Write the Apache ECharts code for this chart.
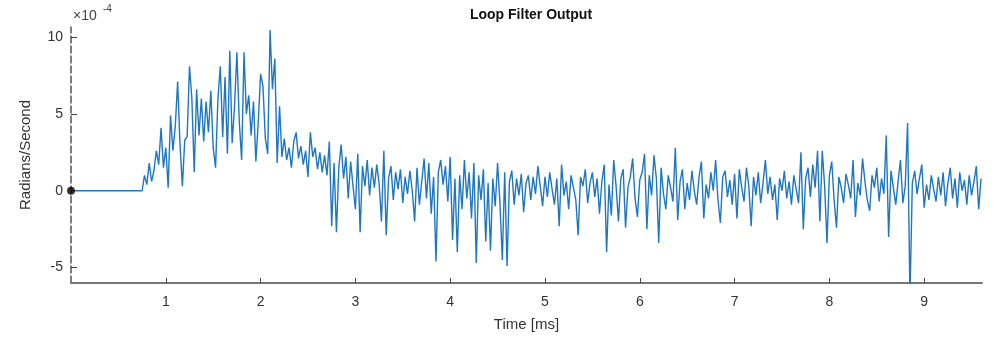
<!DOCTYPE html>
<html>
<head>
<meta charset="utf-8">
<title>Loop Filter Output</title>
<script src="https://cdn.jsdelivr.net/npm/echarts@6/dist/echarts.min.js"></script>
<style>
html, body { margin: 0; padding: 0; background: #fff; }
#chart { width: 994px; height: 340px; }
</style>
</head>
<body>
<div id="chart"></div>
<script>
// samples start at 0.75 ms, one every 0.025 ms, values in units of 1e-4 rad/s
var startTime = 0.75;
var stepTime = 0.025;

// 0.75 - 2.225 ms
var riseVals = [
  0, 1.0, 0.4, 1.8, 0.6, 1.3, 2.6, 1.7, 4.1, 1.5, 2.8, 0.2, 4.9, 2.6, 4.2, 7.1, 3.0, 0.3, 3.3, 3.5,
  8.1, 6.0, 1.2, 6.6, 3.6, 6.0, 3.2, 5.8, 3.8, 6.5, 2.8, 1.5, 6.0, 8.1, 3.5, 7.4, 2.4, 9.1, 3.1, 5.5,
  9.0, 4.5, 2.0, 9.0, 5.0, 6.2, 3.6, 5.8, 1.9, 4.4, 7.6, 6.8, 3.4, 2.4, 10.45, 6.6, 8.6, 1.8, 5.5, 2.2
];
// 2.25 - 4.725 ms
var decayVals = [
  3.4, 2.0, 2.8, 1.5, 3.2, 3.8, 2.1, 2.9, 1.7, 2.6, 0.9, 3.8, 2.2, 2.8, 1.4, 2.5, 1.2, 2.3, 1.0, 3.2,
  -2.3, 1.8, -2.7, 1.5, 3.0, 0.8, 2.2, -0.5, 1.9, 0.3, -1.2, 2.4, -2.7, 1.6, 0.3, 2.0, -0.3, 1.5, 0.2, 1.7,
  0.5, -2.0, 2.6, -2.9, 0.8, 1.6, -0.6, 1.2, 0.1, 1.4, -0.8, 0.9, -0.2, 1.3, 0.0, -2.0, 1.5, -0.9, 0.6, 2.1,
  -0.5, 1.8, -1.5, 0.9, -4.6, 1.2, 2.0, 0.4, 1.6, -0.7, 2.2, -3.2, 0.8, -4.0, 1.0, -1.2, 2.0, -0.5, 1.2, -1.8,
  1.8, -4.7, 1.0, -0.6, 1.4, -3.3, 0.5, -3.9, 0.8, -1.0, 1.8, -0.8, -4.5, 1.2, -4.9, 0.6, 1.3, -0.9, 0.8, -0.3
];
// 4.75 - 9.6 ms
var steadyVals = [
  1.1, -1.4, 0.5, 1.0, -0.6, 0.9, -0.2, 1.6, 0.3, -1.0, 0.9, -0.4, 1.2, 0.1, -0.9, 0.8, -2.3, 1.7, -0.3, 0.6,
  -1.2, 1.0, 0.2, -0.6, -2.9, 0.9, 0.3, 1.4, -0.8, 0.5, 1.2, -0.4, 0.8, -1.5, 0.6, 1.7, -4.0, 0.4, -1.6, 2.0,
  0.3, -2.0, 0.8, 1.4, -2.4, 0.2, 0.9, 2.1, -0.5, -1.7, 0.7, 1.2, 2.4, -2.5, 1.0, -0.3, 2.3, 0.8, -3.4, 1.5,
  -0.2, -1.2, 1.0, 0.2, -0.7, 2.8, -1.9, 0.6, 1.4, -1.2, 0.5, -0.6, 1.3, 0.0, -0.9, 0.9, 1.9, -1.8, 0.4, -0.5,
  1.2, 0.0, 2.0, -0.6, -2.1, 0.9, 1.3, -0.4, 0.7, -0.9, 1.1, -1.8, 1.4, 0.2, -0.7, 1.5, 0.3, -2.3, 0.9, -0.3,
  1.2, -0.8, 0.5, 2.0, -0.2, 0.9, -0.6, 0.4, -1.9, 0.8, 0.0, 1.3, -0.5, 0.6, -0.9, 1.0, 0.1, -0.8, 2.5, -2.5,
  0.8, 1.5, -0.4, 1.7, 0.2, 2.6, -2.0, 2.6, 0.3, -3.4, 1.0, 1.9, -0.6, -2.4, 0.9, 0.2, -0.8, 1.1, 0.4, -0.5,
  2.0, -1.7, 0.5, -0.3, 2.1, 0.6, -0.6, -1.3, 1.0, 0.2, 1.5, -0.7, 0.8, -0.2, 3.6, -3.0, 1.3, 0.2, -0.9, 0.6,
  2.0, -0.8, 0.3, 4.4, -7.0, 0.5, 1.3, -0.2, 0.8, 1.7, -1.1, 0.4, -0.6, 1.0, 0.1, -0.7, 0.9, -0.3, 1.2, -1.0,
  0.5, 1.5, -0.5, 0.8, -1.1, 1.2, 0.0, 0.7, -0.9, 1.0, -0.3, 0.6, 1.6, -1.2, 0.8
];

var xTicks = [1, 2, 3, 4, 5, 6, 7, 8, 9];
var yTicks = [-5, 0, 5, 10];
var startPoint = [0, 0];

var allVals = riseVals.concat(decayVals, steadyVals);
var lineData = [startPoint];
for (var i = 0; i < allVals.length; i++) {
  lineData.push([+(startTime + i * stepTime).toFixed(3), allVals[i]]);
}

var font = "Liberation Sans, Arial, sans-serif";
var chart = echarts.init(document.getElementById("chart"));
chart.setOption({
  animation: false,
  textStyle: { fontFamily: font },
  title: {
    text: "Loop Filter Output",
    left: 526,
    top: 3,
    textAlign: "center",
    textStyle: { fontSize: 14, fontWeight: "bold", color: "#111" }
  },
  graphic: [
    { type: "text", left: 73, top: 9, style: { text: "×10", fontSize: 14, fill: "#444", fontFamily: font } },
    { type: "text", left: 103, top: 4, style: { text: "-4", fontSize: 10, fill: "#444", fontFamily: font } }
  ],
  grid: { left: 71, right: 12, top: 27, bottom: 57 },
  xAxis: {
    type: "value",
    min: 0,
    max: 9.61,
    name: "Time [ms]",
    nameLocation: "middle",
    nameGap: 34,
    nameTextStyle: { fontSize: 15, color: "#333" },
    axisLine: { onZero: false, lineStyle: { color: "#777", width: 2 } },
    axisTick: { inside: true, length: 5, customValues: xTicks, lineStyle: { color: "#444" } },
    axisLabel: { customValues: xTicks, fontSize: 14, color: "#333", margin: 12 },
    splitLine: { show: false }
  },
  yAxis: {
    type: "value",
    min: -6,
    max: 10.65,
    name: "Radians/Second",
    nameLocation: "middle",
    nameGap: 38,
    nameTextStyle: { fontSize: 15, color: "#333" },
    axisLine: { show: true, onZero: false, lineStyle: { color: "#555", width: 1.5, type: [7, 3] } },
    axisTick: { show: true, inside: true, length: 6, customValues: yTicks, lineStyle: { color: "#444" } },
    axisLabel: { customValues: yTicks, fontSize: 14, color: "#333", margin: 8 },
    splitLine: { show: false }
  },
  series: [
    {
      type: "line",
      data: lineData,
      showSymbol: false,
      lineStyle: { color: "#1f77c0", width: 1.4 },
      z: 2
    },
    {
      type: "scatter",
      data: [startPoint],
      symbolSize: 8,
      itemStyle: { color: "#000" },
      clip: false,
      z: 3
    }
  ]
});
</script>
</body>
</html>
